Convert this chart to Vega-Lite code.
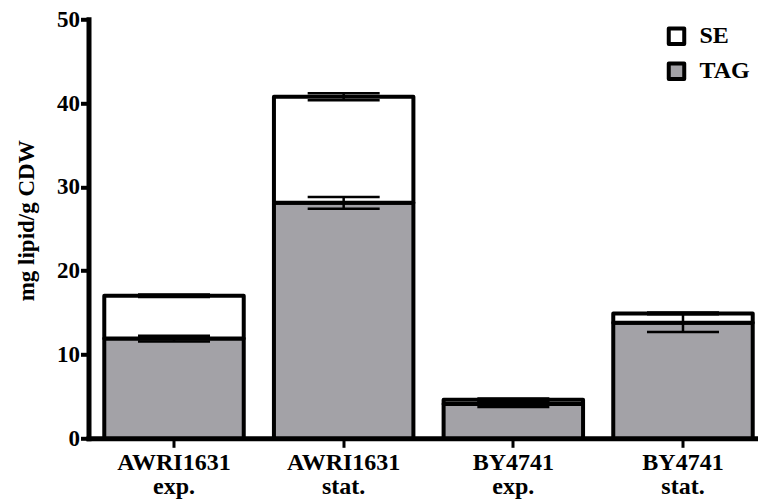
{
  "$schema": "https://vega.github.io/schema/vega-lite/v6.json",
  "width": 669.5,
  "height": 419,
  "autosize": {"type": "none"},
  "padding": {"left": 88.5, "top": 19.3, "right": 0, "bottom": 62.7},
  "config": {"font": "Liberation Serif", "view": {"stroke": null}},
  "data": {
    "values": [
      {"strain": "AWRI1631 exp.", "component": "TAG", "value": 11.9, "err": 0.35},
      {"strain": "AWRI1631 exp.", "component": "SE", "value": 5.1, "err": 0.15},
      {"strain": "AWRI1631 stat.", "component": "TAG", "value": 28.1, "err": 0.7},
      {"strain": "AWRI1631 stat.", "component": "SE", "value": 12.65, "err": 0.42},
      {"strain": "BY4741 exp.", "component": "TAG", "value": 4.1, "err": 0.35},
      {"strain": "BY4741 exp.", "component": "SE", "value": 0.5, "err": 0.15},
      {"strain": "BY4741 stat.", "component": "TAG", "value": 13.8, "err": 1.12},
      {"strain": "BY4741 stat.", "component": "SE", "value": 1.1, "err": 0.1}
    ]
  },
  "encoding": {
    "x": {
      "field": "strain",
      "type": "nominal",
      "sort": null,
      "scale": {"range": [0, 680], "paddingInner": 0.178, "paddingOuter": 0.093},
      "axis": {
        "title": null,
        "labelAngle": 0,
        "labelExpr": "split(datum.label, ' ')",
        "labelFont": "Liberation Serif",
        "labelFontSize": 24,
        "labelFontWeight": "bold",
        "labelColor": "black",
        "labelLineHeight": 24,
        "labelPadding": 3,
        "labelBaseline": "top",
        "tickSize": 9,
        "tickWidth": 3,
        "tickColor": "black",
        "domainWidth": 5,
        "domainColor": "black",
        "domainCap": "square"
      }
    }
  },
  "layer": [
    {
      "mark": {"type": "bar", "stroke": "black", "strokeWidth": 4, "strokeJoin": "round"},
      "encoding": {
        "y": {
          "field": "value",
          "type": "quantitative",
          "stack": "zero",
          "title": "mg lipid/g CDW",
          "scale": {"domain": [0, 50], "nice": false},
          "axis": {
            "values": [0, 10, 20, 30, 40, 50],
            "grid": false,
            "domainColor": "black",
            "domainWidth": 5,
            "domainCap": "square",
            "tickColor": "black",
            "tickWidth": 4,
            "tickSize": 8,
            "labelFont": "Liberation Serif",
            "labelFontSize": 23,
            "labelFontWeight": "bold",
            "labelColor": "black",
            "labelPadding": 1,
            "titleFont": "Liberation Serif",
            "titleFontSize": 23,
            "titleFontWeight": "bold",
            "titleColor": "black",
            "titleAngle": -90,
            "titleAlign": "center",
            "titleBaseline": "middle",
            "titleX": -62,
            "titleY": 201
          }
        },
        "color": {
          "field": "component",
          "type": "nominal",
          "scale": {"domain": ["SE", "TAG"], "range": ["#ffffff", "#a3a2a7"]},
          "legend": {
            "title": null,
            "orient": "none",
            "legendX": 576,
            "legendY": 5,
            "padding": 0,
            "symbolType": "square",
            "symbolSize": 240,
            "symbolStrokeColor": "black",
            "symbolStrokeWidth": 4,
            "symbolOpacity": 1,
            "labelFont": "Liberation Serif",
            "labelFontSize": 24,
            "labelFontWeight": "bold",
            "labelColor": "black",
            "labelOffset": 11,
            "rowPadding": 11,
            "encode": {"symbols": {"update": {"strokeJoin": {"value": "round"}}}}
          }
        },
        "order": {"field": "component", "sort": "descending"}
      }
    },
    {
      "transform": [
        {
          "stack": "value",
          "groupby": ["strain"],
          "sort": [{"field": "component", "order": "descending"}],
          "as": ["v0", "v1"]
        }
      ],
      "mark": {
        "type": "errorbar",
        "ticks": {"size": 72, "thickness": 2.5, "color": "black", "opacity": 1},
        "rule": {"strokeWidth": 2.5, "color": "black", "opacity": 1}
      },
      "encoding": {
        "y": {"field": "v1", "type": "quantitative", "title": "mg lipid/g CDW"},
        "yError": {"field": "err"}
      }
    }
  ]
}
